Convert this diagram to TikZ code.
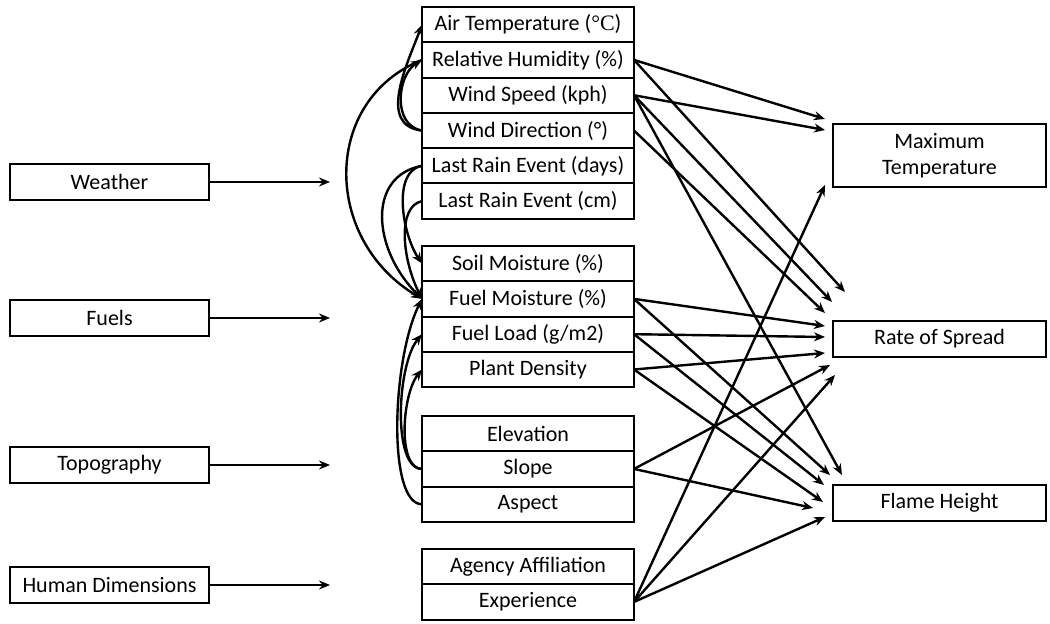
\documentclass[tikz,border=0pt]{standalone}
\usepackage{fontspec}
\setmainfont{Carlito}
\newfontfamily\degfont{Liberation Serif}
\usetikzlibrary{arrows.meta, positioning}

\tikzset{
    groupbox/.style={draw, line width=2pt, minimum width=199pt, minimum height=36pt,
        inner sep=0pt, outer sep=0pt, font=\fontsize{22}{26}\selectfont},
    varbox/.style={draw, line width=2pt, minimum width=212pt, minimum height=35.3pt,
        inner sep=0pt, outer sep=0pt, font=\fontsize{22}{26}\selectfont},
    outbox/.style={varbox, minimum width=213pt, align=center},
    link/.style={line width=2.4pt, -{Stealth[length=11pt,width=9pt]}}
}

\begin{document}
\begin{tikzpicture}[x=1pt, y=1pt]
    \useasboundingbox (0,0) rectangle (1050,624);

    % left column
    \node[groupbox] (weather) at (109.5,442) {Weather};
    \node[groupbox] (fuels) at (109.5,306) {Fuels};
    \node[groupbox] (topo) at (109.5,159) {Topography};
    \node[groupbox] (human) at (109.5,39) {Human Dimensions};
    \coordinate (weatherend) at (330,442);
    \coordinate (fuelsend) at (330,306);
    \coordinate (topoend) at (330,159);
    \coordinate (humanend) at (330,39);
    \draw[link] (weather.east) -- (weatherend);
    \draw[link] (fuels.east) -- (fuelsend);
    \draw[link] (topo.east) -- (topoend);
    \draw[link] (human.east) -- (humanend);

    % middle column
    \node[varbox] (airtemp) at (528,599.35) {Air Temperature ({\degfont °C})};
    \node[varbox, below=0pt of airtemp] (humid) {Relative Humidity (\%)};
    \node[varbox, below=0pt of humid] (windspd) {Wind Speed (kph)};
    \node[varbox, below=0pt of windspd] (winddir) {Wind Direction (°)};
    \node[varbox, below=0pt of winddir] (raindays) {Last Rain Event (days)};
    \node[varbox, below=0pt of raindays] (raincm) {Last Rain Event (cm)};

    \node[varbox] (soilmst) at (528,360.4) {Soil Moisture (\%)};
    \node[varbox, below=0pt of soilmst] (fuelmst) {Fuel Moisture (\%)};
    \node[varbox, below=0pt of fuelmst] (fuelload) {Fuel Load (g/m2)};
    \node[varbox, below=0pt of fuelload] (density) {Plant Density};

    \node[varbox] (elev) at (528,190.35) {Elevation};
    \node[varbox, below=0pt of elev] (slope) {Slope};
    \node[varbox, below=0pt of slope] (aspect) {Aspect};

    \node[varbox] (agency) at (528,57.35) {Agency Affiliation};
    \node[varbox, below=0pt of agency] (exper) {Experience};

    % right column
    \node[outbox, minimum height=63pt] (maxtemp) at (939.5,468.5) {Maximum\\Temperature};
    \node[outbox, minimum height=36pt] (spread) at (939.5,285) {Rate of Spread};
    \node[outbox, minimum height=36pt] (flame) at (939.5,121) {Flame Height};

    % links inside the groups
    \draw[link] (winddir.west) .. controls +(-45,5) and +(-15,-40) .. (airtemp.west);
    \draw[link] (winddir.west) .. controls +(-30,5) and +(-25,-15) .. (humid.west);
    \draw[link] (humid.west) .. controls +(-100,-40) and +(-100,60) .. (fuelmst.west);
    \draw[link] (raindays.west) .. controls +(-55,-10) and +(-50,50) .. (fuelmst.west);
    \draw[link] (raindays.west) .. controls +(-30,-5) and +(-20,30) .. (soilmst.west);
    \draw[link] (raincm.west) .. controls +(-25,-5) and +(-20,40) .. (fuelmst.west);
    \draw[link] (slope.west) .. controls +(-30,0) and +(-25,-30) .. (fuelload.west);
    \draw[link] (slope.west) .. controls +(-25,0) and +(-20,-25) .. (density.west);
    \draw[link] (aspect.west) .. controls +(-35,0) and +(-30,-60) .. (fuelmst.west);

    % links to the outcomes
    \draw[link] (humid.east) -- ([shift={(-8,5)}]maxtemp.north west);
    \draw[link] (humid.east) -- ([shift={(12,29)}]spread.north west);
    \draw[link] (windspd.east) -- ([shift={(-8,-6)}]maxtemp.north west);
    \draw[link] (windspd.east) -- ([shift={(-1,19)}]spread.north west);
    \draw[link] (windspd.east) -- ([shift={(9,10)}]flame.north west);
    \draw[link] (winddir.east) -- ([shift={(-8,8)}]spread.north west);
    \draw[link] (fuelmst.east) -- ([shift={(-8,13)}]spread.west);
    \draw[link] (fuelmst.east) -- ([shift={(-3,10)}]flame.north west);
    \draw[link] (fuelload.east) -- ([shift={(-8,2)}]spread.west);
    \draw[link] (fuelload.east) -- ([shift={(-9,0)}]flame.north west);
    \draw[link] (density.east) -- ([shift={(-8,-14)}]spread.west);
    \draw[link] (density.east) -- ([shift={(-10,1)}]flame.west);
    \draw[link] (slope.east) -- ([shift={(-3,-8)}]spread.south west);
    \draw[link] (slope.east) -- ([shift={(-20,-5)}]flame.west);
    \draw[link] (exper.east) -- ([shift={(-8,2)}]maxtemp.south west);
    \draw[link] (exper.east) -- ([shift={(2,-18)}]spread.south west);
    \draw[link] (exper.east) -- ([shift={(-8,-14)}]flame.west);
\end{tikzpicture}
\end{document}
